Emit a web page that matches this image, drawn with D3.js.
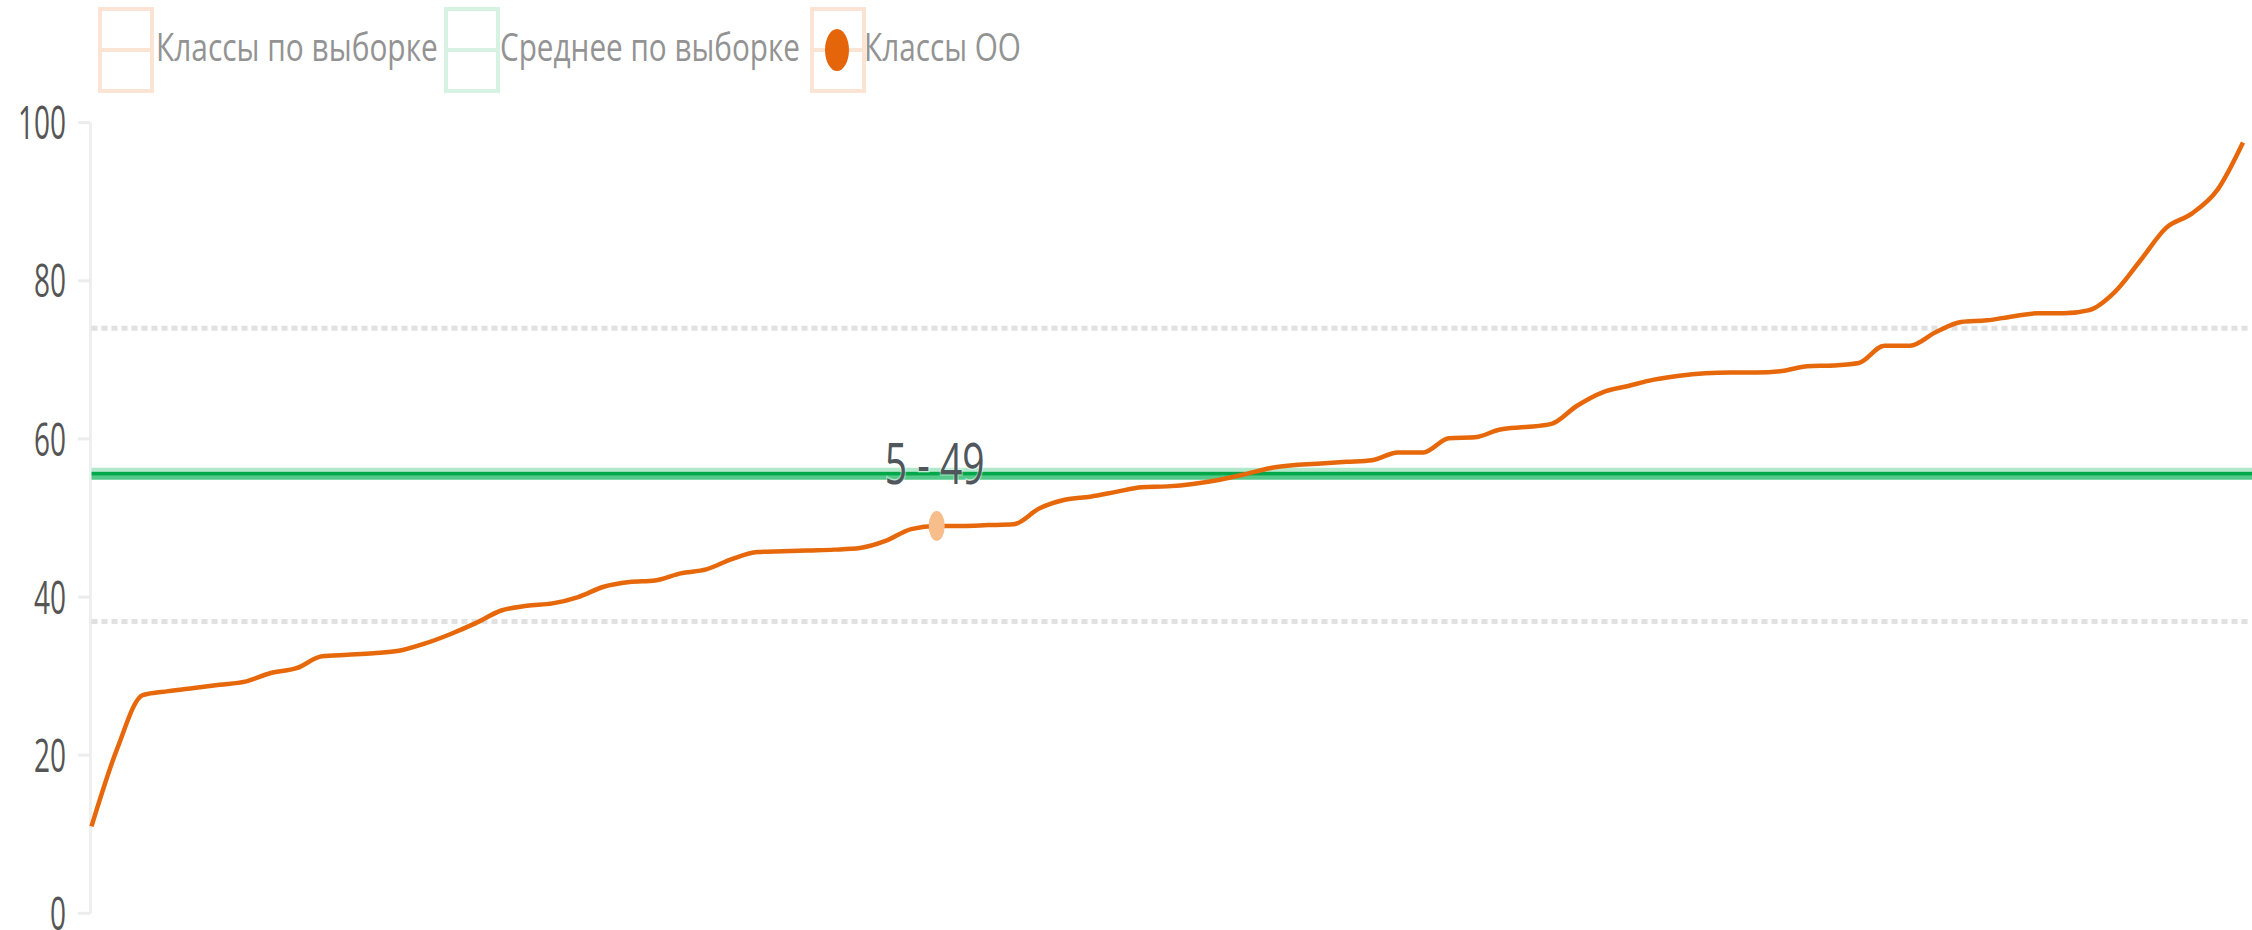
<!DOCTYPE html>
<html>
<head>
<meta charset="utf-8">
<script src="https://cdn.jsdelivr.net/npm/d3@7/dist/d3.min.js"></script>
<style>
  html, body { margin: 0; padding: 0; background: #fff; overflow: hidden; }
  text { font-family: "Open Sans", "Noto Sans", sans-serif; }
</style>
</head>
<body>
<svg id="chart"></svg>
<script>
// Legend names
const seriesNames = ["Классы по выборке", "Среднее по выборке", "Классы ОО"];

// Sorted scores of classes in the sample
const sampleScores = [
  11, 20.8, 27.6, 28.1, 28.5, 28.9, 29.3, 30.4, 31.0, 32.5,
  32.7, 32.9, 33.2, 34.1, 35.3, 36.7, 38.3, 38.9, 39.2, 40.0,
  41.3, 41.9, 42.1, 43.0, 43.5, 44.8, 45.7, 45.8, 45.9, 46.0,
  46.2, 47.1, 48.6, 49.0, 49.0, 49.1, 49.2, 51.2, 52.3, 52.7,
  53.3, 53.9, 54.0, 54.3, 54.8, 55.5, 56.3, 56.7, 56.9, 57.1,
  57.3, 58.3, 58.3, 60.1, 60.2, 61.2, 61.5, 61.9, 64.2, 65.9,
  66.7, 67.5, 68.0, 68.3, 68.4, 68.4, 68.6, 69.2, 69.3, 69.6,
  71.8, 71.8, 73.5, 74.8, 75.0, 75.5, 75.9, 75.9, 76.3, 78.6,
  82.6, 86.7, 88.5, 91.5, 97.5
];

// Mean over the sample
const sampleMean = 55.6;

// Dashed reference lines
const refLines = [36.9, 74.0];

// Classes of the school: position in the ranking, class name, score
const schoolIndex = [33];
const schoolNames = ["5"];
const schoolScores = [49];

const yTicks = [0, 20, 40, 60, 80, 100];

const width = 2252;
const height = 930;

const svg = d3.select("#chart").attr("width", width).attr("height", height);

const x = d3.scaleLinear().domain([0, sampleScores.length - 1]).range([91.5, 2243]);
const y = d3.scaleLinear().domain([0, 100]).range([913.3, 122.7]);

// Helper: squeeze text horizontally so it fills a given width
function squeeze(g, targetWidth) {
  const t = g.select("text");
  const w = t.node().getComputedTextLength();
  t.attr("transform", `scale(${targetWidth / w},1)`);
}

// Y axis
const axisX = 90.5;
svg.append("line")
  .attr("x1", axisX).attr("x2", axisX)
  .attr("y1", y(100)).attr("y2", y(0))
  .attr("stroke", "#efefef").attr("stroke-width", 3);

const tickG = svg.append("g")
  .selectAll("g")
  .data(yTicks)
  .enter()
  .append("g");

tickG.append("line")
  .attr("x1", 78).attr("x2", axisX)
  .attr("y1", d => y(d)).attr("y2", d => y(d))
  .attr("stroke", "#ececec").attr("stroke-width", 3);

const tickLabels = tickG.append("g")
  .attr("transform", d => `translate(66,${y(d)})`);
tickLabels.append("text")
  .attr("text-anchor", "end")
  .attr("dy", "0.36em")
  .attr("font-size", 46)
  .attr("fill", "#555")
  .text(d => d);

// all tick labels share the scale of "100"
const refNode = tickLabels.filter(d => d === 100).select("text").node();
const tickScale = 48 / refNode.getComputedTextLength();
tickLabels.select("text").attr("transform", `scale(${tickScale},1)`);

// Dashed reference lines
svg.append("g")
  .selectAll("line")
  .data(refLines)
  .enter()
  .append("line")
  .attr("x1", axisX + 1).attr("x2", 2248)
  .attr("y1", d => y(d)).attr("y2", d => y(d))
  .attr("stroke", "#dcdcdc")
  .attr("stroke-width", 5)
  .attr("stroke-dasharray", "6,4")
  .attr("opacity", 0.85);

// Mean line (three bands)
const meanG = svg.append("g");
const bands = [
  { dy: -4, color: "#b0e8ca" },
  { dy: 4, color: "#55c98a" },
  { dy: 0, color: "#00a84a" }
];
meanG.selectAll("line")
  .data(bands)
  .enter()
  .append("line")
  .attr("x1", axisX + 1).attr("x2", width)
  .attr("y1", d => y(sampleMean) + d.dy).attr("y2", d => y(sampleMean) + d.dy)
  .attr("stroke", d => d.color)
  .attr("stroke-width", 4);

// Sample line
const line = d3.line()
  .x((d, i) => x(i))
  .y(d => y(d))
  .curve(d3.curveMonotoneX);

svg.append("path")
  .datum(sampleScores)
  .attr("d", line)
  .attr("fill", "none")
  .attr("stroke", "#e6680b")
  .attr("stroke-width", 4.5)
  .attr("stroke-linejoin", "round");

// School class points
const schoolData = schoolIndex.map((idx, i) => ({
  idx: idx, name: schoolNames[i], value: schoolScores[i]
}));

svg.append("g")
  .selectAll("ellipse")
  .data(schoolData)
  .enter()
  .append("ellipse")
  .attr("cx", d => x(d.idx))
  .attr("cy", d => y(d.value))
  .attr("rx", 8)
  .attr("ry", 15)
  .attr("fill", "#f7bd8a");

const labelG = svg.append("g")
  .selectAll("g")
  .data(schoolData)
  .enter()
  .append("g")
  .attr("transform", d => `translate(${x(d.idx) - 2},${y(d.value) - 42})`);
labelG.append("text")
  .attr("text-anchor", "middle")
  .attr("font-size", 56)
  .attr("fill", "#4f565c")
  .attr("stroke", "rgba(255,255,255,0.45)")
  .attr("stroke-width", 3)
  .attr("paint-order", "stroke")
  .text(d => `${d.name} - ${d.value}`);
labelG.each(function () { squeeze(d3.select(this), 100); });

// Legend
const legendItems = [
  { name: seriesNames[0], box: 100, textX: 156, textW: 282, color: "#fbe4d3", dot: false },
  { name: seriesNames[1], box: 446, textX: 500, textW: 300, color: "#d6f2e3", dot: false },
  { name: seriesNames[2], box: 812, textX: 864, textW: 157, color: "#fbe4d3", dot: true }
];

const legend = svg.append("g")
  .selectAll("g")
  .data(legendItems)
  .enter()
  .append("g");

legend.append("rect")
  .attr("x", d => d.box)
  .attr("y", 9)
  .attr("width", 52)
  .attr("height", 82)
  .attr("fill", "none")
  .attr("stroke", d => d.color)
  .attr("stroke-width", 4);

legend.append("line")
  .attr("x1", d => d.box).attr("x2", d => d.box + 52)
  .attr("y1", 50).attr("y2", 50)
  .attr("stroke", d => d.color)
  .attr("stroke-width", 4);

legend.filter(d => d.dot)
  .append("ellipse")
  .attr("cx", d => d.box + 25)
  .attr("cy", 50)
  .attr("rx", 12)
  .attr("ry", 21)
  .attr("fill", "#e5650a");

const legendText = legend.append("g")
  .attr("transform", d => `translate(${d.textX},61)`);
legendText.append("text")
  .attr("font-size", 38)
  .attr("fill", "#939393")
  .text(d => d.name);
legendText.each(function (d) { squeeze(d3.select(this), d.textW); });
</script>
</body>
</html>
